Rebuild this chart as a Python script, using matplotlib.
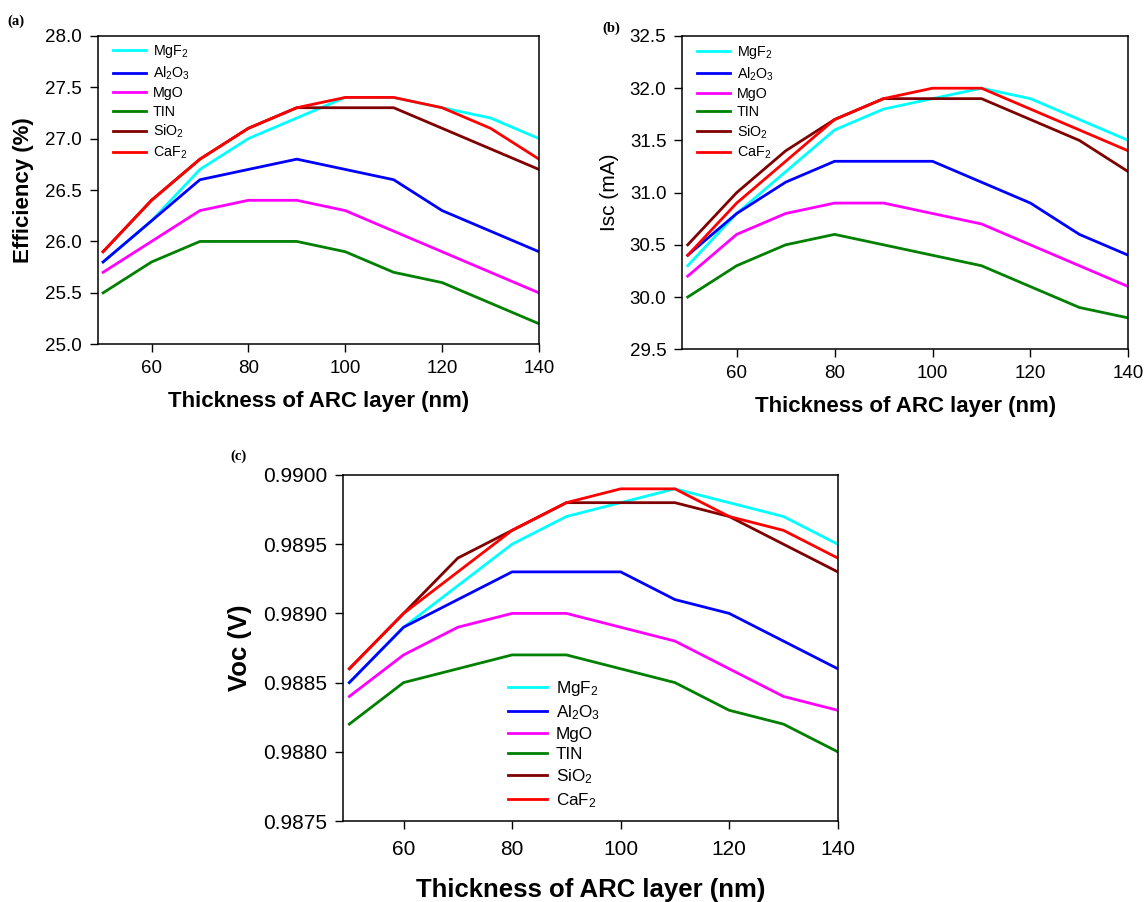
import matplotlib
matplotlib.use("Agg")
import matplotlib.pyplot as plt

plt.rcParams['font.family'] = ['Liberation Sans', 'DejaVu Sans']
plt.rcParams['mathtext.default'] = 'regular'

# thickness of ARC layer (nm)
thickness = [50, 60, 70, 80, 90, 100, 110, 120, 130, 140]
materials = ['MgF$_2$', 'Al$_2$O$_3$', 'MgO', 'TIN', 'SiO$_2$', 'CaF$_2$']
colors = ['#00FFFF', '#0000FF', '#FF00FF', '#008000', '#800000', '#FF0000']

# efficiency (%)
eff_mgf2 = [25.8, 26.2, 26.7, 27.0, 27.2, 27.4, 27.4, 27.3, 27.2, 27.0]
eff_al2o3 = [25.8, 26.2, 26.6, 26.7, 26.8, 26.7, 26.6, 26.3, 26.1, 25.9]
eff_mgo = [25.7, 26.0, 26.3, 26.4, 26.4, 26.3, 26.1, 25.9, 25.7, 25.5]
eff_tin = [25.5, 25.8, 26.0, 26.0, 26.0, 25.9, 25.7, 25.6, 25.4, 25.2]
eff_sio2 = [25.9, 26.4, 26.8, 27.1, 27.3, 27.3, 27.3, 27.1, 26.9, 26.7]
eff_caf2 = [25.9, 26.4, 26.8, 27.1, 27.3, 27.4, 27.4, 27.3, 27.1, 26.8]

# Isc (mA)
isc_mgf2 = [30.3, 30.8, 31.2, 31.6, 31.8, 31.9, 32.0, 31.9, 31.7, 31.5]
isc_al2o3 = [30.4, 30.8, 31.1, 31.3, 31.3, 31.3, 31.1, 30.9, 30.6, 30.4]
isc_mgo = [30.2, 30.6, 30.8, 30.9, 30.9, 30.8, 30.7, 30.5, 30.3, 30.1]
isc_tin = [30.0, 30.3, 30.5, 30.6, 30.5, 30.4, 30.3, 30.1, 29.9, 29.8]
isc_sio2 = [30.5, 31.0, 31.4, 31.7, 31.9, 31.9, 31.9, 31.7, 31.5, 31.2]
isc_caf2 = [30.4, 30.9, 31.3, 31.7, 31.9, 32.0, 32.0, 31.8, 31.6, 31.4]

# Voc (V)
voc_mgf2 = [0.9885, 0.9889, 0.9892, 0.9895, 0.9897, 0.9898, 0.9899, 0.9898, 0.9897, 0.9895]
voc_al2o3 = [0.9885, 0.9889, 0.9891, 0.9893, 0.9893, 0.9893, 0.9891, 0.9890, 0.9888, 0.9886]
voc_mgo = [0.9884, 0.9887, 0.9889, 0.9890, 0.9890, 0.9889, 0.9888, 0.9886, 0.9884, 0.9883]
voc_tin = [0.9882, 0.9885, 0.9886, 0.9887, 0.9887, 0.9886, 0.9885, 0.9883, 0.9882, 0.9880]
voc_sio2 = [0.9886, 0.9890, 0.9894, 0.9896, 0.9898, 0.9898, 0.9898, 0.9897, 0.9895, 0.9893]
voc_caf2 = [0.9886, 0.9890, 0.9893, 0.9896, 0.9898, 0.9899, 0.9899, 0.9897, 0.9896, 0.9894]

xticks = [60, 80, 100, 120, 140]


def draw_panel(ax, series, ylim, yticks, yfmt, ylabel, ylabel_bold, ylabel_fs, tick_fs,
               label_fs, xpad, tpad, leg_fs, leg_anchor):
    for vals, name, c in zip(series, materials, colors):
        ax.plot(thickness, vals, color=c, lw=2.0, label=name)
    ax.set_xlim(48.9, 140)
    ax.set_ylim(*ylim)
    ax.set_xticks(xticks)
    ax.set_yticks(yticks)
    ax.set_yticklabels([yfmt.format(v) for v in yticks])
    ax.tick_params(direction='out', length=5.5, width=1.0, labelsize=tick_fs, pad=6,
                   top=False, right=False)
    ax.tick_params(axis='x', pad=tpad)
    for s in ax.spines.values():
        s.set_linewidth(1.1)
    ax.set_xlabel('Thickness of ARC layer (nm)', fontsize=label_fs, fontweight='bold',
                  labelpad=xpad)
    ax.set_ylabel(ylabel, fontsize=ylabel_fs, fontweight='bold' if ylabel_bold else 'normal',
                  labelpad=8)
    ax.legend(loc='upper left', bbox_to_anchor=leg_anchor, frameon=False, fontsize=leg_fs,
              handlelength=2.3, handletextpad=0.5, labelspacing=0.3, borderpad=0,
              borderaxespad=0)


fig = plt.figure(figsize=(11.46, 9.02), dpi=100)

ax_a = fig.add_axes([0.0853, 0.6183, 0.385, 0.3421])
draw_panel(ax_a, [eff_mgf2, eff_al2o3, eff_mgo, eff_tin, eff_sio2, eff_caf2],
           (25.0, 28.0), [25.0, 25.5, 26.0, 26.5, 27.0, 27.5, 28.0], '{:.1f}',
           'Efficiency (%)', True, 16, 13.5, 16, 10, 6, 10.3, (0.034, 0.975))

ax_b = fig.add_axes([0.5954, 0.6128, 0.3892, 0.3473])
draw_panel(ax_b, [isc_mgf2, isc_al2o3, isc_mgo, isc_tin, isc_sio2, isc_caf2],
           (29.5, 32.5), [29.5, 30.0, 30.5, 31.0, 31.5, 32.0, 32.5], '{:.1f}',
           'Isc (mA)', False, 15, 13.5, 16, 10, 6, 10.3, (0.032, 0.975))

ax_c = fig.add_axes([0.2996, 0.0898, 0.4314, 0.3836])
draw_panel(ax_c, [voc_mgf2, voc_al2o3, voc_mgo, voc_tin, voc_sio2, voc_caf2],
           (0.9875, 0.9900), [0.9875, 0.9880, 0.9885, 0.9890, 0.9895, 0.9900], '{:.4f}',
           'Voc (V)', True, 18.5, 15, 18.5, 14, 8, 12.3, (0.333, 0.41))

fig.text(7 / 1146, 1 - 21.7 / 902, '(a)', family='Liberation Serif', fontweight='bold',
         fontsize=10.5, va='center', ha='left')
fig.text(602 / 1146, 1 - 28.3 / 902, '(b)', family='Liberation Serif', fontweight='bold',
         fontsize=10.5, va='center', ha='left')
fig.text(230 / 1146, 1 - 456.7 / 902, '(c)', family='Liberation Serif', fontweight='bold',
         fontsize=10.5, va='center', ha='left')

fig.savefig('out.png', dpi=100)
